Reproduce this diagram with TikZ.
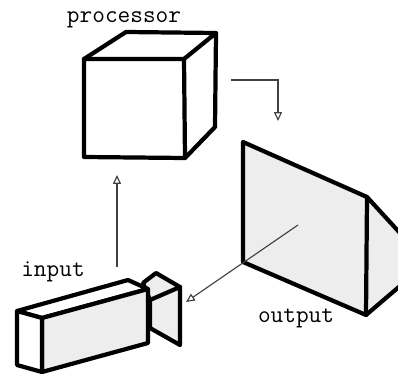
\documentclass[tikz,border=0pt]{standalone}
\usetikzlibrary{arrows.meta}
\tikzset{
  solid edge/.style={line width=2.4pt,line join=round,line cap=round},
  face/.style={fill=black!7},
  flow/.style={line width=0.65pt,black!75,-{Triangle[open,length=5pt,width=4.5pt]}},
  caption/.style={font=\ttfamily\fontsize{14}{15}\selectfont,inner sep=0pt}
}
\begin{document}
\begin{tikzpicture}[x=0.02cm,y=-0.02cm]
  \useasboundingbox (0,0) rectangle (398,375);
  % processor
  \draw[solid edge] (84,59)--(184,59)--(185,158)--(84,157)--cycle;
  \draw[solid edge] (84,59)--(126,32)--(216,33)--(184,59);
  \draw[solid edge] (216,33)--(215,127)--(185,158);
  \node[caption] (processor) at (124,20) {processor};
  % output
  \fill[face] (367,197)--(398,231)--(398,288)--(366,315)--cycle;
  \draw[solid edge,face] (243,142)--(367,197)--(366,315)--(243,262)--cycle;
  \draw[solid edge] (367,197)--(400,233);
  \draw[solid edge] (366,315)--(400,286);
  \node[caption] (output) at (296,318) {output};
  % input
  \draw[solid edge,face] (143,283)--(156,273)--(180,287)--(180,345)--(150,328)--(150,300)--cycle;
  \draw[solid edge] (150,300)--(180,287);
  \draw[solid edge,fill=white] (17,311)--(128,280)--(148,289)--(42,318)--cycle;
  \draw[solid edge,face] (42,318)--(148,289)--(148,343)--(42,372)--cycle;
  \draw[solid edge,fill=white] (17,311)--(42,318)--(42,372)--(17,365)--cycle;
  \node[caption] (input) at (53,272) {input};
  % connectors
  \coordinate (input out) at (117,267);
  \coordinate (processor in) at (117,175);
  \coordinate (processor out) at (231,80);
  \coordinate (bend) at (278,80);
  \coordinate (output in) at (278,121);
  \coordinate (output out) at (298,225);
  \coordinate (input in) at (186,302);
  \draw[flow] (input out)--(processor in);
  \draw[flow] (processor out)--(bend)--(output in);
  \draw[flow] (output out)--(input in);
\end{tikzpicture}
\end{document}
